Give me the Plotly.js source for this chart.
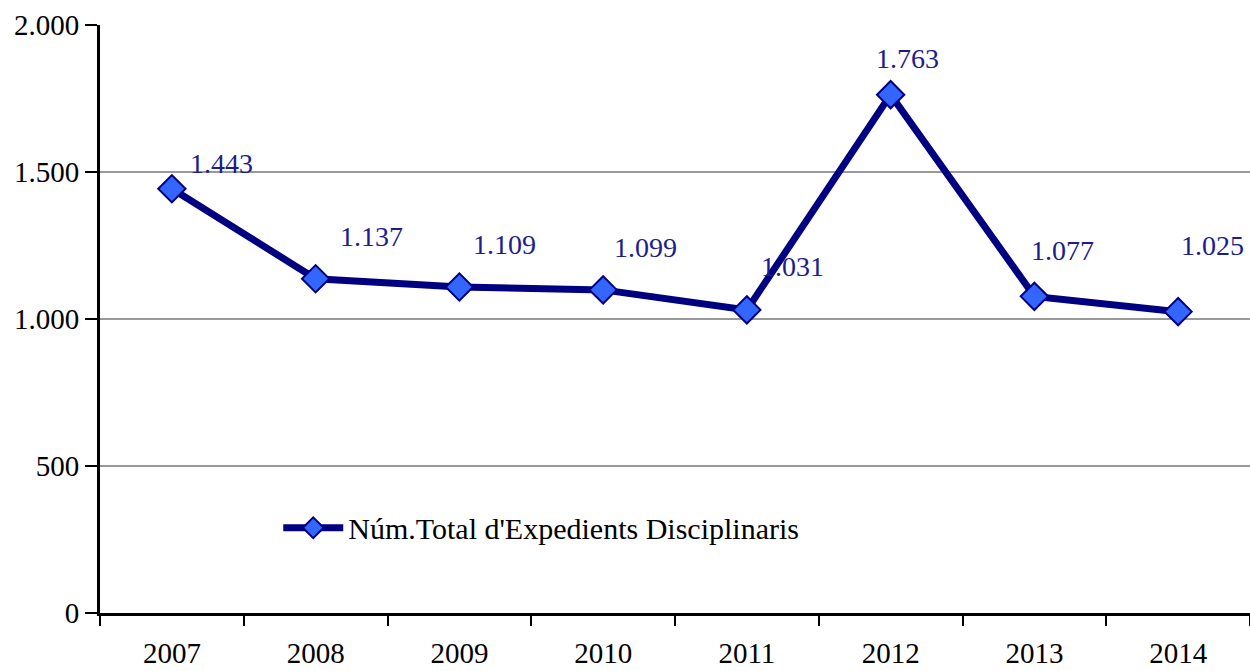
<!DOCTYPE html>
<html>
<head>
<meta charset="utf-8">
<script src="https://cdn.plot.ly/plotly-3.0.1.min.js"></script>
<style>
  body { margin: 0; background: #fff; }
  #chartDiv { width: 1250px; height: 671px; }
</style>
</head>
<body>
<div id="chartDiv"></div>
<script>
// chart data
var years = ['2007', '2008', '2009', '2010', '2011', '2012', '2013', '2014'];
var expedients = [1443, 1137, 1109, 1099, 1031, 1763, 1077, 1025];
var seriesName = "Núm.Total d'Expedients Disciplinaris";
var yTicks = [0, 500, 1000, 1500, 2000];

// label offsets in px (x, y) so the numbers sit where the original put them
var labelShiftX = [50, 56, 45, 42, 46, 17, 28, 34];
var labelShiftY = [25, 42, 42, 42, 43, 36, 46, 66];

// 1443 -> "1.443"
function fmt(v) {
    return String(v).replace(/\B(?=(\d{3})+(?!\d))/g, '.');
}

var serif = 'Liberation Serif, DejaVu Serif, serif';

var trace = {
    x: years,
    y: expedients,
    type: 'scatter',
    mode: 'lines+markers',
    name: seriesName,
    line: { color: '#000080', width: 7 },
    marker: { symbol: 'diamond', size: 21, color: '#3366ff', line: { color: '#000080', width: 2 } },
    hoverinfo: 'x+y'
};

var annotations = [];
for (var i = 0; i < years.length; i++) {
    annotations.push({
        xref: 'x', yref: 'y',
        x: i,
        y: expedients[i],
        text: fmt(expedients[i]),
        showarrow: false,
        xshift: labelShiftX[i],
        yshift: labelShiftY[i],
        font: { family: serif, size: 28, color: '#1c1c8c' }
    });
}

var layout = {
    width: 1250,
    height: 671,
    margin: { l: 100, r: 0, t: 25, b: 58 },
    paper_bgcolor: '#fff',
    plot_bgcolor: '#fff',
    separators: ',.',
    font: { family: serif, size: 29, color: '#000' },
    showlegend: true,
    legend: {
        x: 0.155, y: 0.145, xanchor: 'left', yanchor: 'middle',
        bgcolor: 'rgba(0,0,0,0)',
        font: { family: serif, size: 30, color: '#000' },
        itemwidth: 60
    },
    xaxis: {
        type: 'category',
        range: [-0.5, 7.5],
        showline: true, linecolor: '#000', linewidth: 3,
        ticks: 'outside', tickson: 'boundaries', ticklen: 10, tickwidth: 2, tickcolor: '#000',
        ticklabelstandoff: 12,
        showgrid: false, zeroline: false,
        fixedrange: true
    },
    yaxis: {
        range: [0, 2000],
        tickvals: yTicks,
        tickformat: ',d',
        showline: true, linecolor: '#000', linewidth: 3,
        ticks: 'outside', ticklen: 12, tickwidth: 2, tickcolor: '#000',
        showgrid: true, gridcolor: '#999', gridwidth: 2,
        zeroline: false,
        fixedrange: true
    },
    annotations: annotations
};

Plotly.newPlot('chartDiv', [trace], layout, { displayModeBar: false, staticPlot: true });
</script>
</body>
</html>
